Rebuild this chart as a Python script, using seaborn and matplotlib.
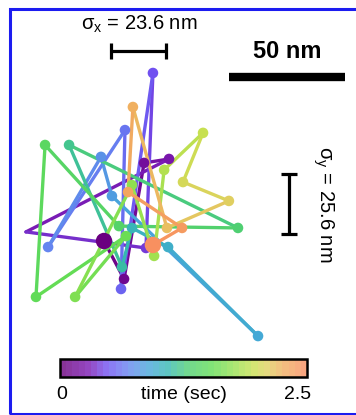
import numpy as np
import pandas as pd
import matplotlib
matplotlib.use("Agg")
import matplotlib.pyplot as plt
import seaborn as sns
from matplotlib.colors import LinearSegmentedColormap, ListedColormap, Normalize
from matplotlib.collections import LineCollection
from matplotlib.patches import Rectangle
from matplotlib.cm import ScalarMappable

# trajectory (nm) and frame times (sec)
x_nm = [0.0, 8.6, 17.2, 27.9, -33.5, 18.0, 21.0, 7.3, 9.0, -24.0, -1.3, 3.4,
        66.1, 27.5, 12.0, 7.7, -15.0, 57.5, 6.4, -25.3, -29.2, 9.4, -12.4,
        12.0, 21.5, 25.8, 42.5, 33.9, 53.6, 27.0, 12.4, 10.3, 33.5, 21.0]
y_nm = [0.0, -16.3, 33.5, 35.2, 3.9, -3.0, 72.1, -20.6, 47.6, -2.6, 36.1, 19.3,
        -40.8, -2.6, 5.6, -11.2, 41.2, 5.6, 6.4, 41.2, -24.0, 2.1, -24.0,
        24.0, -6.4, 30.5, 46.4, 25.3, 17.2, 5.6, 57.5, 21.0, 5.6, -1.7]
t_sec = [0.00, 0.08, 0.15, 0.23, 0.30, 0.38, 0.45, 0.53, 0.61, 0.68, 0.76, 0.83,
         0.91, 0.98, 1.06, 1.14, 1.21, 1.29, 1.36, 1.44, 1.52, 1.59, 1.67, 1.74,
         1.82, 1.89, 1.97, 2.05, 2.12, 2.20, 2.27, 2.35, 2.42, 2.50]

sigma_x = 23.6
sigma_y = 25.6
scale_nm = 50
t_max = 2.5

df = pd.DataFrame({"x": x_nm, "y": y_nm, "t": t_sec})

cmap = LinearSegmentedColormap.from_list("traj", [
    (0.00, "#6a0080"), (0.10, "#7a18b0"), (0.18, "#7050f0"), (0.27, "#6585f0"),
    (0.36, "#45a8d8"), (0.44, "#35b8b0"), (0.52, "#50d070"), (0.62, "#62dc55"),
    (0.70, "#90e050"), (0.79, "#c8e050"), (0.85, "#e0d060"), (0.91, "#f0b060"),
    (1.00, "#f89060")])
norm = Normalize(0, t_max)

sns.set_theme(style="white")
plt.rcParams["font.family"] = ["Liberation Sans", "DejaVu Sans"]
plt.rcParams["text.color"] = "black"

fig = plt.figure(figsize=(3.56, 4.15), dpi=100)
ax = fig.add_axes([0, 0, 1, 1])

# segments coloured by time
pts = df[["x", "y"]].values
segs = np.stack([pts[:-1], pts[1:]], axis=1)
tmid = (df["t"].values[:-1] + df["t"].values[1:]) / 2
lc = LineCollection(segs, colors=cmap(norm(tmid)), linewidths=2.4, capstyle="round", zorder=2)
ax.add_collection(lc)

# the far-left turn has no marker in the original
sns.scatterplot(data=df.drop(index=4), x="x", y="y", hue="t", palette=cmap, hue_norm=norm,
                s=58, edgecolor="none", legend=False, ax=ax, zorder=3)
sns.scatterplot(data=df.iloc[[0, -1]], x="x", y="y", hue="t", palette=cmap, hue_norm=norm,
                s=140, edgecolor="none", legend=False, ax=ax, zorder=4)
ax.set_xlim(-44.64, 108.15)
ax.set_ylim(-74.68, 103.43)
ax.axis("off")

# sigma bars
ax.errorbar(14.8, 81.5, xerr=sigma_x / 2, color="black", elinewidth=2.3,
            capsize=6, capthick=2.3, zorder=5)
ax.text(15.0, 92.9, r"σ$_\mathregular{x}$ = 23.6 nm", ha="center", va="center",
        fontsize=14.5, color="black")
ax.errorbar(79.4, 15.9, yerr=sigma_y / 2, color="black", elinewidth=2.3,
            capsize=6, capthick=2.3, zorder=5)
ax.text(94.2, 15.9, r"σ$_\mathregular{y}$ = 25.6 nm", ha="center", va="center",
        fontsize=14.5, rotation=-90, color="black")

# scale bar
ax.plot([53.6, 53.6 + scale_nm], [70.4, 70.4], color="black", lw=6, solid_capstyle="butt")
ax.text(78.6, 81.3, "50 nm", ha="center", va="center", fontsize=17, fontweight="bold",
        color="black")

# colorbar
cax = fig.add_axes([0.1685, 0.0916, 0.694, 0.0434])
base = cmap(np.linspace(0, 1, 40))
faded = base * 0.8 + 0.2
faded[:, 3] = 1
sm = ScalarMappable(norm=norm, cmap=ListedColormap(faded))
cb = fig.colorbar(sm, cax=cax, orientation="horizontal")
cb.outline.set_linewidth(1.8)
cb.outline.set_edgecolor("black")
cax.set_xticks([t_max / 4, t_max / 2, 3 * t_max / 4])
cax.set_xticklabels([])
cax.tick_params(axis="x", direction="in", length=3, width=1.5, top=True, bottom=True, color="black")
fig.text(62 / 356, 1 - 394 / 415, "0", ha="center", va="center", fontsize=14, color="black")
fig.text(298 / 356, 1 - 394 / 415, "2.5", ha="center", va="center", fontsize=14, color="black")
fig.text(184 / 356, 1 - 394 / 415, "time (sec)", ha="center", va="center", fontsize=14,
         color="black")

# blue frame
fig.patches.append(Rectangle((10 / 356, 1 - 413.5 / 415), 1.1, (413.5 - 9.5) / 415,
                             transform=fig.transFigure, fill=False, edgecolor="#1c1cf0",
                             linewidth=2.2))

fig.savefig("out.png", dpi=100)
